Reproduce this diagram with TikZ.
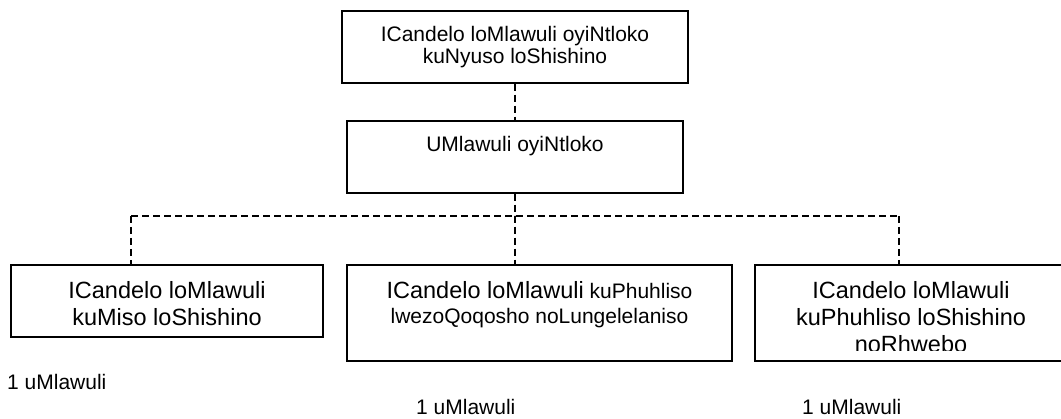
\documentclass[tikz,border=0pt]{standalone}
\usepackage{fontspec}
\setmainfont{Liberation Sans}

\begin{document}
\begin{tikzpicture}[x=1pt,y=-1pt,
	box/.style={draw,line width=1.5pt,inner sep=0pt},
	txt/.style={align=center,inner sep=0pt,anchor=north,font=\fontsize{23.5}{27}\selectfont},
	sml/.style={txt,font=\fontsize{21}{22.5}\selectfont},
	cnt/.style={anchor=base west,inner sep=0pt,font=\fontsize{21}{22.5}\selectfont},
	link/.style={line width=1.3pt,dash pattern=on 7pt off 4pt}]
	\useasboundingbox (0,0) rectangle (1061,419);

	\node[box,minimum width=346pt,minimum height=72pt] at (515,47)    (B0) {};
	\node[box,minimum width=336pt,minimum height=72pt] at (515,157)   (B1) {};
	\node[box,minimum width=312pt,minimum height=72pt] at (167,301)   (B2) {};
	\node[box,minimum width=385pt,minimum height=96pt] at (539.5,313) (B3) {};
	\node[box,minimum width=312pt,minimum height=96pt] at (911,313)   (B4) {};

	\node[sml] at ([yshift=-15.7pt]B0.north) (T0) {ICandelo loMlawuli oyiNtloko\\kuNyuso loShishino};
	\node[sml] at ([yshift=-16pt]B1.north)   (T1) {UMlawuli oyiNtloko};
	\node[txt] at ([yshift=-16.7pt]B2.north) (T2) {ICandelo loMlawuli\\kuMiso loShishino};
	\node[sml,font=\fontsize{21}{25}\selectfont] at ([yshift=-16.7pt]B3.north) (T3)
		{{\fontsize{23.5}{27}\selectfont ICandelo loMlawuli} kuPhuhliso\\lwezoQoqosho noLungelelaniso};
	\begin{scope}
		\clip (B4.north west) rectangle ([yshift=11pt]B4.south east);
		\node[txt] at ([yshift=-16.7pt]B4.north) (T4) {ICandelo loMlawuli\\kuPhuhliso loShishino\\noRhwebo};
	\end{scope}

	\node[cnt] at (7,390)   (N2) {1 uMlawuli};
	\node[cnt] at (416,415) (N3) {1 uMlawuli};
	\node[cnt] at (802,415) (N4) {1 uMlawuli};

	\coordinate (J)  at (515,216);
	\coordinate (JL) at (131,216);
	\coordinate (JR) at (899,216);

	\draw[link] (B0) -- (B1);
	\draw[link] (B1) -- (J) -- (J |- B3.north);
	\draw[link] (JL) -- (JR);
	\draw[link] (JL) -- (JL |- B2.north);
	\draw[link] (JR) -- (JR |- B4.north);
\end{tikzpicture}
\end{document}
